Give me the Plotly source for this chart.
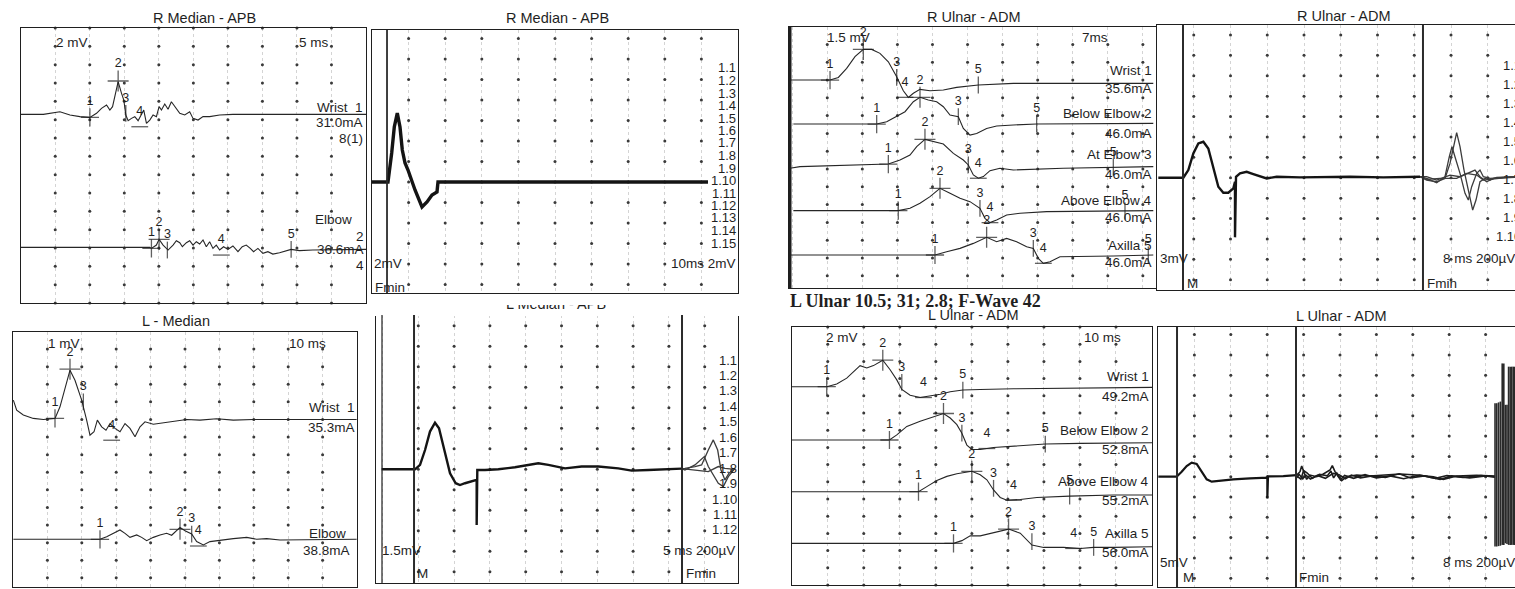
import numpy as np
import plotly.graph_objects as go

W, H = 1515, 589
INK = "#1f1f1f"
SANS = "Liberation Sans"
SERIF = "Liberation Serif"
FS = 13.5      # panel label size
TS = 14.5      # panel title size
LS = 13        # sweep list size

# ============ DATA (time in ms, amplitude in mV relative to each trace baseline) ============
# ---- Panel 1: R Median - APB (2 mV/div, 5 ms/div)
p1_wrist_t = [0, 3.28, 5.68, 7.13, 8.57, 10.02, 10.98, 11.7, 12.43, 12.91, 13.3, 13.63, 14.11, 14.6, 14.93,
              15.22, 15.56, 16.04, 16.52, 17.0, 17.49, 17.82, 18.21, 18.69, 19.17, 19.65, 20.04, 20.38, 20.86,
              21.34, 21.82, 22.3, 23.03, 23.75, 24.47, 24.95, 25.68, 26.4, 27.36, 28.81, 30.73, 50]
p1_wrist_mv = [0, 0, 0.29, -0.07, -0.25, -0.33, 0.11, 0.65, 1.02, 0.47, 0.84, 1.93, 3.56, 2.29, 1.56,
               -0.07, -0.69, -0.44, -0.25, -0.69, -0.07, 0.47, -0.98, -0.62, -0.07, -0.25, 0.84, 0.47, 1.13,
               0.55, 1.38, 0.84, 0.11, -0.07, 0.29, -0.44, -0.62, -0.25, -0.25, -0.07, 0, 0]
p1_wrist_base = -9.42
p1_wrist_mk_t = [10.02, 14.11, 15.22, 17.24]
p1_wrist_mk_mv = [-0.33, 3.64, 0.11, -1.35]
p1_wrist_mk = ["1", "2", "3", "4"]

p1_elbow_t = [0, 18.69, 18.93, 19.65, 20.04, 20.62, 21.34, 22.06, 22.54, 23.03, 23.41, 23.99, 24.47, 24.95,
              25.43, 25.92, 26.4, 26.88, 27.36, 27.84, 28.32, 28.81, 29.38, 30.01, 30.73, 31.46, 32.08, 32.66,
              33.24, 33.72, 34.35, 35.07, 35.79, 36.51, 37.48, 38.44, 39.16, 40.37, 42.3, 50]
p1_elbow_mv = [0, 0, -0.11, 0.25, 0.87, 0.25, -0.29, 0.25, 0.73, 0.51, 0.07, 0.51, 0.73, 0.25, 0.62, 0.36,
               0.8, 0.07, 0.62, -0.11, 0.25, -0.29, 0.07, -0.22, 0.15, -0.47, 0.07, 0.25, -0.11, -0.47, -0.11,
               -0.65, -0.47, -0.73, -0.58, -0.36, -0.22, -0.36, -0.29, -0.22]
p1_elbow_base = -23.93
p1_elbow_mk_t = [18.93, 20.04, 21.24, 29.05, 39.16]
p1_elbow_mk_mv = [-0.11, 0.87, -0.29, -0.84, -0.22]
p1_elbow_mk = ["1", "2", "3", "4", "5"]

# ---- Panel 2: R Median - APB, F-wave screen (2 mV/div, 10 ms/div)
p2_t = [0, 4.37, 5.38, 6.09, 6.91, 7.65, 8.28, 9.02, 9.84, 11.75, 13.66, 15.03, 16.39, 17.76, 18.03, 91.8]
p2_mv = [0, 0, 2.83, 5.37, 6.73, 5.37, 3.12, 1.85, 1.17, -0.78, -2.44, -1.95, -1.27, -0.98, 0, 0]
p2_m_line = 4.1
p2_sweeps = ["1.1", "1.2", "1.3", "1.4", "1.5", "1.6", "1.7", "1.8", "1.9", "1.10", "1.11", "1.12",
             "1.13", "1.14", "1.15"]

# ---- Panel 3: R Ulnar - ADM (1.5 mV/div, 7 ms/div)
p3_wrist_t = [-0.44, 7.55, 9.21, 10.87, 12.53, 14.2, 15.86, 17.52, 19.19, 20.85, 22.18, 23.18, 24.18, 25.51,
              27.51, 30.17, 32.83, 37.15, 44.14, 72.08]
p3_wrist_mv = [0, 0, 0.22, 0.98, 1.97, 2.58, 2.58, 2.25, 1.54, 0.28, -0.9, -1.46, -1.12, -0.79, -0.9, -0.84,
               -0.62, -0.42, -0.28, -0.28]
p3_wrist_base = 0.0
p3_wrist_mk_t = [7.55, 14.2, 20.85, 22.52, 37.15]
p3_wrist_mk_mv = [0, 2.58, 0.22, -1.46, -0.42]

p3_below_t = [0.23, 16.86, 18.86, 20.85, 22.52, 24.18, 25.51, 27.17, 28.84, 30.17, 31.5, 33.16, 34.16, 35.49,
              36.82, 38.81, 40.81, 44.14, 48.79, 72.08]
p3_below_mv = [0, 0, 0.2, 0.62, 1.04, 1.88, 2.25, 2.02, 1.88, 1.46, 0.76, 0.62, -0.37, -0.93, -0.79, -0.37,
               -0.17, -0.08, 0, 0.06]
p3_below_base = -3.71
p3_below_mk_t = [16.86, 25.51, 33.16, 48.79]
p3_below_mk_mv = [0, 2.25, 0.62, 0]

p3_at_t = [-0.44, 1.56, 19.19, 21.52, 23.51, 24.85, 26.5, 28.17, 30.17, 32.17, 34.16, 35.16, 36.16, 37.15,
           38.15, 39.48, 41.48, 44.14, 48.13, 54.12, 72.08]
p3_at_mv = [-0.14, 0, 0.22, 0.56, 0.98, 1.69, 2.3, 2.11, 1.91, 1.12, 0.56, 0.14, -0.7, -0.98, -0.84, -0.34,
            -0.14, -0.28, -0.22, -0.14, 0]
p3_at_base = -7.30
p3_at_mk_t = [19.19, 26.5, 35.16, 37.15, 64.1]
p3_at_mk_mv = [0.22, 2.3, 0.14, -0.98, -0.05]

p3_above_t = [0.23, 21.18, 23.51, 25.51, 27.51, 29.5, 31.5, 33.5, 35.49, 37.48, 38.48, 39.48, 40.81, 42.81,
              45.47, 50.79, 72.08]
p3_above_mv = [0, 0, 0.2, 0.62, 1.18, 1.88, 1.46, 1.04, 0.76, 0.2, -0.65, -1.01, -0.79, -0.37, -0.22, -0.08, 0]
p3_above_base = -11.01
p3_above_mk_t = [21.18, 29.5, 37.48, 39.48, 66.43]
p3_above_mk_mv = [0, 1.88, 0.2, -1.01, -0.03]

p3_axilla_t = [-0.44, 28.5, 30.83, 33.5, 36.16, 38.81, 40.81, 42.81, 44.8, 46.8, 48.13, 49.13, 50.13, 51.46,
               53.45, 57.45, 64.1, 72.08]
p3_axilla_mv = [0, 0, 0.28, 0.56, 0.98, 1.49, 1.12, 1.4, 1.12, 0.7, 0.56, -0.28, -0.7, -0.56, -0.14, -0.14,
                -0.08, 0]
p3_axilla_base = -14.75
p3_axilla_mk_t = [28.5, 38.81, 48.13, 50.13, 71.08]
p3_axilla_mk_mv = [0, 1.49, 0.56, -0.7, 0.0]

# ---- Panel 4: R Ulnar - ADM, F-wave screen (3 mV/div, 8 ms/div)
p4_m_t = [0.29, 5.73, 6.82, 7.91, 9.0, 10.09, 11.17, 12.26, 13.35, 14.44, 15.53, 16.62, 16.98, 16.98, 17.2,
          18.07, 19.52, 20.97, 22.42, 23.87, 26.05, 31.13, 42.01, 49.27, 57.25]
p4_m_mv = [0, 0, 1.13, 3.58, 5.05, 5.29, 4.31, 1.62, -1.32, -2.21, -2.21, -1.57, -0.59, -8.77, 0.15, 0.64,
           0.88, 0.54, 0.25, -0.1, 0.15, 0.05, 0.15, 0.05, 0.15]
p4_fa_t = [57.25, 58.7, 60.88, 62.69, 63.78, 64.65, 65.23, 65.96, 66.83, 67.77, 68.72, 69.44, 70.31, 71.4,
           72.49, 73.94, 77.93]
p4_fa_mv = [0.15, -0.34, -0.59, -0.1, 2.11, 5.05, 6.62, 4.56, 1.13, -1.81, -4.75, -3.28, -0.59, -0.1, -0.34,
            0.05, 0.15]
p4_fb_t = [57.25, 58.7, 60.88, 62.69, 63.63, 64.21, 64.86, 65.96, 67.05, 67.77, 68.5, 69.59, 70.31, 71.04,
           72.49, 77.93]
p4_fb_mv = [0.15, -0.1, -0.74, 0.15, 3.09, 4.56, 3.09, 0.64, -2.3, -3.28, -1.32, 0.64, 1.13, 0.15, -0.1, 0.15]
p4_fc_t = [57.25, 58.7, 60.88, 63.78, 65.96, 68.13, 69.22, 70.31, 71.76, 73.21, 77.93]
p4_fc_mv = [0.15, 0.15, -0.34, 0.39, 0.15, 0.88, 1.13, 0.15, -0.59, -0.1, 0.05]
p4_fd_t = [57.25, 58.7, 61.6, 65.23, 67.41, 69.59, 71.04, 77.93]
p4_fd_mv = [0.15, -0.25, -0.1, -0.1, 0.64, 0.39, -0.34, 0.15]
p4_m_line = 5.66
p4_fmin_line = 57.9
p4_sweeps = ["1.1", "1.2", "1.3", "1.4", "1.5", "1.6", "1.7", "1.8", "1.9", "1.10"]

# ---- Panel 5: L - Median (1 mV/div, 10 ms/div)
p5_wrist_t = [0.1, 1.07, 3.0, 5.91, 8.82, 12.21, 13.66, 15.12, 16.57, 18.02, 19.96, 21.41, 22.38, 23.55,
              24.52, 25.78, 27.03, 28.2, 29.65, 31.11, 32.56, 34.01, 35.47, 36.92, 38.37, 40.79, 43.7, 46.61,
              50.48, 54.36, 59.2, 64.05, 69.86, 99.9]
p5_wrist_mv = [1.1, 0.53, 0.25, 0.06, 0, 0.06, 0.72, 1.76, 2.8, 2.23, 1.1, -0.04, -0.89, -0.7, -0.04, -0.42,
               -0.61, -0.23, -0.51, -0.7, -0.23, -0.51, -0.98, -0.42, -0.13, -0.27, -0.19, -0.08, 0, -0.04,
               0.04, -0.04, 0, 0]
p5_wrist_base = 0.0
p5_wrist_mk_t = [12.21, 16.57, 20.45, 28.68]
p5_wrist_mk_mv = [0.06, 2.86, 1.0, -1.18]

p5_elbow_t = [0.1, 25.29, 27.23, 29.17, 31.1, 32.56, 34.01, 35.95, 37.4, 38.86, 40.79, 42.73, 44.67, 46.12,
              47.58, 48.55, 50.0, 51.94, 53.39, 55.33, 57.27, 60.17, 64.05, 67.93, 70.84, 73.74, 77.61, 99.9]
p5_elbow_mv = [0, 0, 0.15, 0.34, 0.53, 0.34, 0.11, 0.25, 0.11, -0.08, 0.11, 0.25, 0.34, 0.23, 0.53, 0.68,
               0.49, 0.3, -0.13, -0.32, -0.13, -0.04, 0.04, 0.11, 0, 0.04, -0.04, 0]
p5_elbow_base = -6.81
p5_elbow_mk_t = [25.29, 48.55, 51.94, 53.88]
p5_elbow_mk_mv = [0, 0.57, 0.3, -0.38]

# ---- Panel 6: L Median - APB, F-wave screen (1.5 mV/div, 5 ms/div)
p6_m_t = [-0.12, 4.54, 5.24, 5.94, 6.63, 7.33, 7.89, 8.63, 9.43, 10.22, 10.82, 11.52, 12.45, 13.15, 13.15,
          13.24, 14.31, 16.18, 18.5, 20.36, 21.76, 23.16, 25.49, 27.81, 30.14, 32.93, 34.8, 37.12, 40.38, 41.78]
p6_m_mv = [0, 0, 0.32, 1.41, 2.76, 3.41, 3.0, 1.41, -0.29, -1.02, -1.15, -1.02, -0.85, -0.78, -4.07, -0.05,
           -0.05, 0, 0.15, 0.32, 0.44, 0.32, 0.07, 0.2, 0.2, 0.07, -0.1, -0.05, 0, 0.05]
p6_fa_t = [41.78, 42.24, 43.64, 44.57, 45.5, 46.2, 46.81, 47.27, 47.83, 48.39, 49.23]
p6_fa_mv = [0.05, 0.07, 0.2, 0.32, 1.41, 2.15, 1.41, -0.05, -0.78, -0.29, 0.07]
p6_fb_t = [41.78, 42.24, 43.64, 44.34, 44.95, 45.5, 46.2, 46.9, 47.6, 48.3, 49.23]
p6_fb_mv = [0.05, -0.05, 0.32, 0.68, 0.93, 0.2, -0.41, -1.02, -1.27, -0.54, 0.07]
p6_fc_t = [41.78, 42.24, 44.1, 45.5, 46.9, 47.83, 49.23]
p6_fc_mv = [0.05, 0.02, -0.05, -0.17, 0.2, 0.07, 0]
p6_m_line = 4.4
p6_fmin_line = 41.83
p6_sweeps = ["1.1", "1.2", "1.3", "1.4", "1.5", "1.6", "1.7", "1.8", "1.9", "1.10", "1.11", "1.12"]

# ---- Panel 7: L Ulnar - ADM (2 mV/div, 10 ms/div)
p7_wrist_t = [0, 9.72, 12.5, 15.28, 18.98, 20.84, 22.69, 25.28, 27.32, 29.17, 30.56, 32.87, 35.65, 38.43,
              41.21, 43.99, 47.5, 52.32, 61.58, 100]
p7_wrist_mv = [0, 0, 0.32, 0.99, 2.45, 2.17, 2.45, 3.08, 1.97, 0.79, -0.32, -0.99, -1.26, -1.1, -0.87, -0.59,
               -0.39, -0.32, -0.24, -0.08]
p7_wrist_base = -6.94
p7_wrist_mk_t = [9.72, 25.28, 30.56, 36.58, 47.5]
p7_wrist_mk_mv = [0, 3.08, 0.5, -1.26, -0.39]

p7_below_t = [0, 27.13, 29.17, 31.95, 35.65, 38.43, 40.28, 42.13, 43.99, 45.84, 47.23, 48.62, 50.0, 52.32,
              56.02, 61.58, 70.38, 80.1, 100]
p7_below_mv = [0, 0, 0.59, 1.58, 2.17, 2.56, 2.84, 3.08, 2.56, 1.78, 0.79, -0.59, -1.1, -1.1, -0.87, -0.71,
               -0.47, -0.39, -0.32]
p7_below_base = -13.14
p7_below_mk_t = [27.13, 42.13, 47.23, 54.17, 70.38]
p7_below_mk_mv = [0, 3.08, 0.79, -0.99, -0.47]

p7_above_t = [0, 35.19, 37.5, 40.28, 43.06, 45.84, 50.0, 52.32, 54.17, 56.02, 57.87, 59.73, 63.43, 68.06,
              77.14, 89.36, 100]
p7_above_mv = [0, 0, 0.59, 1.3, 1.78, 2.09, 2.37, 1.97, 1.38, 0.2, -0.67, -0.99, -0.91, -0.67, -0.51, -0.39,
               -0.39]
p7_above_base = -19.15
p7_above_mk_t = [35.19, 50.0, 56.02, 61.58, 77.14]
p7_above_mk_mv = [0, 2.37, 0.39, -0.99, -0.51]

p7_axilla_t = [0, 44.91, 47.23, 49.54, 52.32, 56.02, 60.19, 63.43, 66.67, 69.91, 75.47, 80.1, 83.8, 89.36, 100]
p7_axilla_mv = [0, 0, 0.32, 0.87, 0.87, 1.26, 1.66, 1.18, -0.2, -0.47, -0.47, -0.59, -0.47, -0.47, -0.39]
p7_axilla_base = -25.16
p7_axilla_mk_t = [44.91, 60.19, 66.67, 78.25, 83.8]
p7_axilla_mk_mv = [0, 1.66, 0.2, -0.59, -0.47]

# ---- Panel 8: L Ulnar - ADM, F-wave screen (5 mV/div, 8 ms/div)
p8_m_t = [0.07, 4.1, 5.2, 6.3, 7.4, 8.5, 9.6, 10.7, 11.8, 13.63, 16.56, 20.22, 24.03, 24.03, 24.18, 27.55, 30.48]
p8_m_mv = [0, 0, 1.23, 2.63, 3.45, 3.12, 1.23, -0.66, -1.23, -0.99, -0.66, -0.41, -0.25, -5.34, 0.08, 0.16, 0.41]
p8_fa_t = [30.48, 31.21, 31.58, 32.09, 32.67, 33.41, 34.87, 36.34, 37.8, 38.31, 38.9, 39.63, 40.37, 41.46,
           43.66, 46.59, 49.52, 53.19, 56.85, 60.51, 62.71, 65.64, 70.04, 74.07]
p8_fa_mv = [0.41, 1.23, 2.63, 0.82, -0.66, 0.41, 0, 0.66, 1.64, 2.71, 1.23, 0, -0.99, 0, 0.41, 0.16, 0.33,
            0.66, 0.41, 0, -0.66, 0.16, 0.33, 0.16]
p8_fb_t = [30.48, 31.4, 32.0, 32.8, 33.9, 35.5, 37.2, 38.0, 38.6, 39.3, 40.1, 41.0, 43.0, 45.5, 48.0, 51.0,
           54.0, 57.5, 61.0, 63.5, 67.0, 71.0, 74.07]
p8_fb_mv = [0.2, -0.6, 1.5, 0.9, -0.4, 0.6, 0.2, 1.4, -0.3, 0.9, -0.8, 0.3, -0.4, 0.5, -0.3, 0.2, -0.5, 0.4,
            -0.4, 0.3, -0.2, 0.3, 0.0]
p8_fc_t = [30.48, 31.0, 31.8, 32.5, 33.5, 35.0, 36.8, 38.5, 39.8, 41.2, 42.5, 44.5, 47.0, 50.0, 53.0, 55.5,
           58.5, 62.0, 64.5, 68.5, 72.0, 74.07]
p8_fc_mv = [-0.3, 0.6, -0.5, 0.4, -0.6, 0.3, -0.4, 0.8, 0.5, -0.5, 0.4, -0.3, 0.2, -0.2, 0.7, -0.3, 0.2, -0.7,
            0.2, -0.3, 0.2, -0.1]
p8_art_t = [74.07, 74.45, 74.85, 75.25, 75.65, 76.0, 76.35, 76.7, 77.05, 77.4, 77.75, 78.1, 78.4]
p8_art_top = [18.1, 18.1, 18.3, 18.5, 27.9, 27.9, 17.7, 17.7, 27.1, 27.1, 27.1, 27.1, 27.1]
p8_art_bot = [-17.2, -17.2, -17.1, -17.0, -16.8, -16.8, -16.4, -16.6, -16.8, -16.8, -16.8, -16.8, -16.8]
p8_m_line = 4.18
p8_fmin_line = 30.33

# ====================== LAYOUT GEOMETRY (pixels of the 1515x589 page) ======================
panels = {
    1: dict(box=(20.7, 366, 28, 303), xr=(0, 50), yr=(-30, 0), dx=5, dy=2, right=True),
    2: dict(box=(372, 738, 30, 293), xr=(0, 100), yr=(-10.83, 14.83), dx=10, dy=2, right=True),
    3: dict(box=(789, 1156, 27, 288), xr=(-0.64, 72.62), yr=(-17.53, 4.47), dx=7, dy=1.5, right=True),
    4: dict(box=(1157, 1515, 25, 290), xr=(0, 77.93), yr=(-16.51, 22.46), dx=8, dy=3, right=False),
    5: dict(box=(13, 357, 332, 587), xr=(0, 100), yr=(-9.52, 4.97), dx=10, dy=1, right=True),
    6: dict(box=(376, 738, 315, 583), xr=(-0.91, 49.65), yr=(-8.32, 11.29), dx=5, dy=1.5, right=True),
    7: dict(box=(791.7, 1152, 327, 585), xr=(0, 100), yr=(-30, 0), dx=10, dy=2, right=True),
    8: dict(box=(1158, 1515, 327, 587), xr=(0, 78.46), yr=(-27.17, 36.87), dx=8, dy=5, right=False),
}

fig = go.Figure()
layout = dict(width=W, height=H, margin=dict(l=0, r=0, t=0, b=0), paper_bgcolor="white",
              plot_bgcolor="white", showlegend=False)
shapes, anns = [], []


def ax(i, kind):
    return kind if i == 1 else f"{kind}{i}"


for i, p in panels.items():
    x0, x1, y0, y1 = p["box"]
    layout[ax(i, "xaxis")] = dict(domain=[x0 / W, min(x1 / W, 1.0)], range=list(p["xr"]), anchor=ax(i, "y"),
                                  showline=True, mirror=True, linecolor=INK, linewidth=1.3,
                                  showticklabels=False, ticks="", zeroline=False,
                                  showgrid=True, gridcolor="#d4d4d4", griddash="dot", gridwidth=1,
                                  tick0=0, dtick=p["dx"], fixedrange=True)
    layout[ax(i, "yaxis")] = dict(domain=[1 - y1 / H, 1 - y0 / H], range=list(p["yr"]), anchor=ax(i, "x"),
                                  showline=True, mirror=p["right"], linecolor=INK, linewidth=1.3,
                                  showticklabels=False, ticks="", zeroline=False, showgrid=False,
                                  fixedrange=True)
    # grid dots at division intersections
    dx, dy = p["dx"], p["dy"]
    xs = [k * dx for k in range(int(np.floor(p["xr"][0] / dx)), int(np.ceil(p["xr"][1] / dx)) + 1)
          if p["xr"][0] + 0.3 * dx < k * dx < p["xr"][1] - 0.3 * dx]
    ys = [k * dy for k in range(int(np.floor(p["yr"][0] / dy)), int(np.ceil(p["yr"][1] / dy)) + 1)
          if p["yr"][0] - 1e-6 <= k * dy <= p["yr"][1] + 1e-6]
    gx, gy = np.meshgrid(xs, ys)
    fig.add_trace(go.Scatter(x=gx.ravel(), y=gy.ravel(), mode="markers", xaxis=ax(i, "x"), yaxis=ax(i, "y"),
                             marker=dict(size=3, color="#3a3a3a"), hoverinfo="skip", cliponaxis=False))

SYM = {"1": "cross-thin", "2": "cross-thin", "3": "line-ns", "4": "line-ew", "5": "line-ns"}
SIZE = {"1": 13, "2": 15, "3": 12, "4": 12, "5": 12}


def wave(i, t, mv, base=0.0, width=1.1, color="#262626"):
    fig.add_trace(go.Scatter(x=t, y=np.asarray(mv) + base, mode="lines", xaxis=ax(i, "x"), yaxis=ax(i, "y"),
                             line=dict(color=color, width=width), hoverinfo="skip"))


def marks(i, t, mv, base, labels=None):
    labels = labels or [str(k + 1) for k in range(len(t))]
    fig.add_trace(go.Scatter(x=t, y=np.asarray(mv) + base, mode="markers+text", text=labels,
                             textposition="top center", xaxis=ax(i, "x"), yaxis=ax(i, "y"),
                             textfont=dict(family=SANS, size=12.5, color=INK),
                             marker=dict(symbol=[SYM[l] for l in labels], size=[SIZE[l] for l in labels],
                                         color=INK, line=dict(color=INK, width=1.3)),
                             hoverinfo="skip", cliponaxis=False))


def vline(i, xv, width=2.0):
    shapes.append(dict(type="line", xref=ax(i, "x"), yref=ax(i, "y") + " domain", x0=xv, x1=xv, y0=0, y1=1,
                       line=dict(color="#2b2b2b", width=width)))


def note(px, py, text, anchor="left", size=FS, family=SANS, color=INK):
    anns.append(dict(x=px / W, y=1 - py / H, xref="paper", yref="paper", text=text, showarrow=False,
                     xanchor=anchor, yanchor="middle", font=dict(family=family, size=size, color=color)))


# ---- Panel 1
wave(1, p1_wrist_t, p1_wrist_mv, p1_wrist_base)
marks(1, p1_wrist_mk_t, p1_wrist_mk_mv, p1_wrist_base, p1_wrist_mk)
wave(1, p1_elbow_t, p1_elbow_mv, p1_elbow_base)
marks(1, p1_elbow_mk_t, p1_elbow_mk_mv, p1_elbow_base, p1_elbow_mk)
note(204, 18, "R Median - APB", "center", TS)
note(54, 42, "2 mV"); note(297, 42, "5 ms")
note(365, 108, "Wrist  1", "right"); note(365, 123, "31.0mA", "right"); note(365, 138, "8(1)", "right")
note(313, 220, "Elbow"); note(366, 236, "2", "right"); note(366, 249, "36.6mA", "right")
note(366, 265, "4", "right")

# ---- Panel 2
wave(2, p2_t, p2_mv, 0.0, width=3.4, color="#141414")
vline(2, p2_m_line, 1.8)
note(557, 18, "R Median - APB", "center", TS)
for k, s in enumerate(p2_sweeps):
    note(738, 68 + 12.5 * k, s, "right", LS)
note(372, 263, "2mV"); note(738, 263, "10ms 2mV", "right"); note(373, 287, "Fmin")

# ---- Panel 3
for t, mv, b, mt, mm, lb in [
        (p3_wrist_t, p3_wrist_mv, p3_wrist_base, p3_wrist_mk_t, p3_wrist_mk_mv, ["1", "2", "3", "4", "5"]),
        (p3_below_t, p3_below_mv, p3_below_base, p3_below_mk_t, p3_below_mk_mv, ["1", "2", "3", "5"]),
        (p3_at_t, p3_at_mv, p3_at_base, p3_at_mk_t, p3_at_mk_mv, ["1", "2", "3", "4", "5"]),
        (p3_above_t, p3_above_mv, p3_above_base, p3_above_mk_t, p3_above_mk_mv, ["1", "2", "3", "4", "5"]),
        (p3_axilla_t, p3_axilla_mv, p3_axilla_base, p3_axilla_mk_t, p3_axilla_mk_mv, ["1", "2", "3", "4", "5"])]:
    wave(3, t, mv, b)
    marks(3, mt, mm, b, lb)
shapes.append(dict(type="line", xref="paper", yref="y3 domain", x0=790 / W, x1=790 / W, y0=0, y1=1,
                   line=dict(color=INK, width=3)))
note(973, 17, "R Ulnar - ADM", "center", TS)
note(825, 38, "1.5 mV"); note(1080, 38, "7ms")
for py, s in [(70, "Wrist 1"), (89, "35.6mA"), (113, "Below Elbow 2"), (133, "46.0mA"), (155, "At Elbow 3"),
              (174, "46.0mA"), (200, "Above Elbow 4"), (218, "46.0mA"), (245, "Axilla 5"), (262, "46.0mA")]:
    note(1154, py, s, "right")

# ---- Panel 4
wave(4, p4_m_t, p4_m_mv, 0.0, width=2.4, color="#141414")
for t, mv in [(p4_fa_t, p4_fa_mv), (p4_fb_t, p4_fb_mv), (p4_fc_t, p4_fc_mv), (p4_fd_t, p4_fd_mv)]:
    wave(4, t, mv, 0.0, width=1.3, color="#3c3c3c")
vline(4, p4_m_line); vline(4, p4_fmin_line)
note(1343, 16, "R Ulnar - ADM", "center", TS)
for k, s in enumerate(p4_sweeps):
    note(1523, 65 + 19.1 * k, s, "right", LS)
note(1158, 258, "3mV"); note(1517, 258, "8 ms 200µV", "right")
note(1185, 283, "M"); note(1425, 283, "Fmin")

# ---- Panel 5
wave(5, p5_wrist_t, p5_wrist_mv, p5_wrist_base)
marks(5, p5_wrist_mk_t, p5_wrist_mk_mv, p5_wrist_base, ["1", "2", "3", "4"])
wave(5, p5_elbow_t, p5_elbow_mv, p5_elbow_base)
marks(5, p5_elbow_mk_t, p5_elbow_mk_mv, p5_elbow_base, ["1", "2", "3", "4"])
note(176, 321, "L - Median", "center", TS)
note(46, 343, "1 mV"); note(287, 343, "10 ms")
note(357, 407, "Wrist  1", "right"); note(357, 427, "35.3mA", "right")
note(348, 533, "Elbow", "right"); note(352, 550, "38.8mA", "right")

# ---- Panel 6
wave(6, p6_m_t, p6_m_mv, 0.0, width=2.4, color="#141414")
for t, mv in [(p6_fa_t, p6_fa_mv), (p6_fb_t, p6_fb_mv), (p6_fc_t, p6_fc_mv)]:
    wave(6, t, mv, 0.0, width=1.3, color="#3c3c3c")
vline(6, p6_m_line); vline(6, p6_fmin_line)
shapes.append(dict(type="line", xref="paper", yref="y6 domain", x0=382 / W, x1=382 / W, y0=0, y1=1,
                   line=dict(color=INK, width=1.2)))
for k, s in enumerate(p6_sweeps):
    note(739, 360 + 15.45 * k, s, "right", LS)
note(380, 550, "1.5mV"); note(737, 550, "5 ms 200µV", "right")
note(415, 573, "M"); note(684, 573, "Fmin")
# title of this panel is partly hidden in the source: draw it clipped in a tiny helper axis
layout["xaxis9"] = dict(domain=[372 / W, 740 / W], range=[0, 1], visible=False, fixedrange=True, anchor="y9")
layout["yaxis9"] = dict(domain=[1 - 316 / H, 1 - 305 / H], range=[0, 1], visible=False, fixedrange=True,
                        anchor="x9")
fig.add_trace(go.Scatter(x=[0.5], y=[1.0], mode="text", text=["L Median - APB"], xaxis="x9", yaxis="y9",
                         textfont=dict(family=SANS, size=TS, color=INK), cliponaxis=True, hoverinfo="skip"))

# ---- Panel 7
for t, mv, b, mt, mm in [
        (p7_wrist_t, p7_wrist_mv, p7_wrist_base, p7_wrist_mk_t, p7_wrist_mk_mv),
        (p7_below_t, p7_below_mv, p7_below_base, p7_below_mk_t, p7_below_mk_mv),
        (p7_above_t, p7_above_mv, p7_above_base, p7_above_mk_t, p7_above_mk_mv),
        (p7_axilla_t, p7_axilla_mv, p7_axilla_base, p7_axilla_mk_t, p7_axilla_mk_mv)]:
    wave(7, t, mv, b)
    marks(7, mt, mm, b)
note(788, 301, "<b>L Ulnar 10.5; 31; 2.8; F-Wave 42</b>", "left", 18, SERIF)
note(973, 315, "L Ulnar - ADM", "center", TS)
note(824, 337, "2 mV"); note(1082, 337, "10 ms")
for py, s in [(376, "Wrist 1"), (396, "49.2mA"), (430, "Below Elbow 2"), (449, "52.8mA"),
              (482, "Above Elbow 4"), (500, "55.2mA"), (533, "Axilla 5"), (552, "56.0mA")]:
    note(1151, py, s, "right")

# ---- Panel 8
wave(8, p8_m_t, p8_m_mv, 0.0, width=2.2, color="#141414")
for t, mv in [(p8_fa_t, p8_fa_mv), (p8_fb_t, p8_fb_mv), (p8_fc_t, p8_fc_mv)]:
    wave(8, t, mv, 0.0, width=1.6, color="#1c1c1c")
art_x, art_y = [], []
for t, top, bot in zip(p8_art_t, p8_art_top, p8_art_bot):
    art_x += [t, t, None]
    art_y += [top, bot, None]
fig.add_trace(go.Scatter(x=art_x, y=art_y, mode="lines", xaxis="x8", yaxis="y8",
                         line=dict(color="#2a2a2a", width=1.6), hoverinfo="skip"))
vline(8, p8_m_line); vline(8, p8_fmin_line)
note(1341, 316, "L Ulnar - ADM", "center", TS)
note(1158, 562, "5mV"); note(1517, 562, "8 ms 200µV", "right")
note(1181, 577, "M"); note(1297, 577, "Fmin")

layout["shapes"] = shapes
layout["annotations"] = anns
fig.update_layout(**layout)

fig.write_html("out.html", config={"displayModeBar": False},
               post_script="document.body.style.margin='0';document.body.style.overflow='hidden';")
